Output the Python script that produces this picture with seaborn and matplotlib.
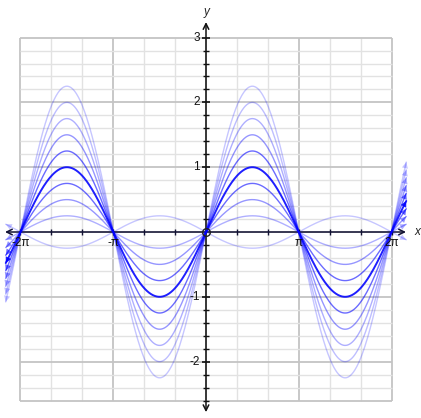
import numpy as np
import pandas as pd
import matplotlib.pyplot as plt
import seaborn as sns

# Aile: y = a * sin(x), a genliği değişiyor
AMPLITUDES = [-0.25, 0.25, 0.5, 0.75, 1.0, 1.25, 1.5, 1.75, 2.0, 2.25]
X_TICKS = [-2 * np.pi, -np.pi, np.pi, 2 * np.pi]
X_LABELS = ['-2π', '-π', 'π', '2π']
Y_TICKS = [-2, -1, 1, 2, 3]
Y_LABELS = ['-2', '-1', '1', '2', '3']

sns.set_theme(style="white")
plt.rcParams['font.family'] = ['Liberation Sans', 'DejaVu Sans']

PI = np.pi
X_MIN, X_MAX = -2 * PI - 0.5, 2 * PI + 0.5
GRID_X = (-2 * PI, 2 * PI)
GRID_Y = (-2.6, 3.0)
MINOR_C, MAJOR_C = '#e2e2e2', '#c4c4c4'
AXIS_C = '#111133'

fig = plt.figure(figsize=(4.21, 4.18), dpi=100)
ax = fig.add_axes([0, 0, 1, 1])
ax.set_xlim(-2.221 * PI, 2.318 * PI)
ax.set_ylim(-2.870, 3.580)
ax.axis('off')

# Izgara
for k in range(-6, 7):
    x = k * PI / 3
    major = k % 3 == 0
    ax.vlines(x, *GRID_Y, color=MAJOR_C if major else MINOR_C, lw=1.3 if major else 1.0, zorder=1)
for k in range(-13, 16):
    y = round(k * 0.2, 1)
    major = (k % 5 == 0) or k == -13
    ax.hlines(y, *GRID_X, color=MAJOR_C if major else MINOR_C, lw=1.3 if major else 1.0, zorder=1)

# Eksenler
ax.annotate('', xy=(2.156 * PI, 0), xytext=(-2.167 * PI, 0),
            arrowprops=dict(arrowstyle='<->', color=AXIS_C, lw=1.1, mutation_scale=10,
                            shrinkA=0, shrinkB=0), zorder=3)
ax.annotate('', xy=(0, 3.24), xytext=(0, -2.78),
            arrowprops=dict(arrowstyle='<->', color='#111111', lw=1.1, mutation_scale=10,
                            shrinkA=0, shrinkB=0), zorder=3)
ax.text(2.275 * PI, 0, 'x', style='italic', fontsize=8.5, color='#222222', ha='center', va='center')
ax.text(0.01, 3.40, 'y', style='italic', fontsize=8.5, color='#222222', ha='center', va='center')

# Tik işaretleri
xt = [k * PI / 3 for k in range(-6, 7) if k != 0]
ax.plot(xt, np.zeros(len(xt)), ls='none', marker='|', ms=4.5, mew=1.0, color=AXIS_C, zorder=4)
yt_minor = [round(k * 0.2, 1) for k in range(-13, 16) if k % 5 != 0]
ax.plot(np.zeros(len(yt_minor)), yt_minor, ls='none', marker='_', ms=4.5, mew=1.0, color='#111111', zorder=4)
ax.plot(np.zeros(len(Y_TICKS)), Y_TICKS, ls='none', marker='_', ms=6, mew=1.2, color='#111111', zorder=4)

for x, lab in zip(X_TICKS, X_LABELS):
    ax.annotate(lab, xy=(x, 0), xytext=(0, -3.5), textcoords='offset points',
                ha='center', va='top', fontsize=8.5, color='#111111', zorder=6)
for y, lab in zip(Y_TICKS, Y_LABELS):
    ax.annotate(lab, xy=(0, y), xytext=(-4.5, 0), textcoords='offset points',
                ha='right', va='center', fontsize=8.5, color='#111111', zorder=6)

# Eğriler
xs = np.linspace(X_MIN, X_MAX, 600)
for a in AMPLITUDES:
    alpha = 0.18 + 0.7 * np.exp(-abs(a - 1) / 0.45)
    df = pd.DataFrame({'x': xs, 'y': a * np.sin(xs)})
    sns.lineplot(data=df, x='x', y='y', ax=ax, color='#0000ff', alpha=alpha,
                 lw=1.4 if a == 1 else 1.0, sort=False, zorder=5)
    for x_end, x_back in [(X_MIN, X_MIN + 0.12), (X_MAX, X_MAX - 0.12)]:
        ax.annotate('', xy=(x_end, a * np.sin(x_end)), xytext=(x_back, a * np.sin(x_back)),
                    arrowprops=dict(arrowstyle='-|>', color='#0000ff', alpha=alpha, lw=0,
                                    mutation_scale=11, shrinkA=0, shrinkB=0), zorder=5)

ax.plot(0, 0, marker='o', ms=5.5, mfc='none', mec='#222222', mew=1.0, zorder=7)

fig.savefig('out.png', dpi=100)
